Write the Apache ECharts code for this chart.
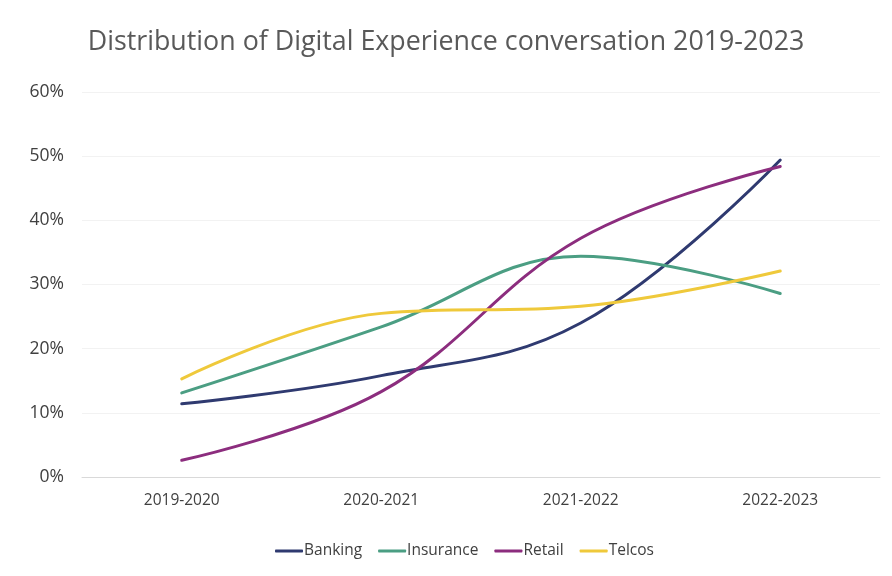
<!DOCTYPE html>
<html><head><meta charset="utf-8">
<script src="https://cdn.jsdelivr.net/npm/echarts@6/dist/echarts.min.js"></script>
<style>html,body{margin:0;padding:0;background:#fff}#c{width:892px;height:576px}</style>
</head><body><div id="c"></div>
<script>
const categories = ['2019-2020','2020-2021','2021-2022','2022-2023'];
const banking = [11.4, 15.8, 24.0, 49.4];
const insurance = [13.1, 23.4, 34.4, 28.6];
const retail = [2.6, 13.3, 37.2, 48.4];
const telcos = [15.3, 25.5, 26.6, 32.1];
const yTicks = [0,10,20,30,40,50,60];

const chart = echarts.init(document.getElementById('c'));
const font = '"Open Sans", sans-serif';
function s(name, data, color){
  return {name, type:'line', data, smooth:0.4, showSymbol:false, symbol:'none',
    lineStyle:{width:3, color, cap:'round'}, itemStyle:{color}};
}
chart.setOption({
  animation:false,
  title:{text:'Distribution of Digital Experience conversation 2019-2023', left:'center', top:24,
    textStyle:{fontFamily:font, fontSize:26.8, fontWeight:'normal', color:'#595959'}},
  legend:{bottom:12, left:270, itemWidth:28, itemHeight:3, itemGap:16, icon:'roundRect',
    textStyle:{fontFamily:font, fontSize:15.5, color:'#404040', padding:[0,0,0,-4]}},
  grid:{left:82, right:12, top:92, bottom:99},
  xAxis:{type:'category', data:categories, boundaryGap:true,
    axisLine:{lineStyle:{color:'#d9d9d9', width:1}}, axisTick:{show:false},
    axisLabel:{fontFamily:font, fontSize:15.5, color:'#404040', margin:16}},
  yAxis:{type:'value', min:0, max:60, interval:10,
    axisLabel:{fontFamily:font, fontSize:17.5, color:'#404040', formatter:v=>v+'%', margin:18},
    splitLine:{lineStyle:{color:'#f2f2f2'}}, axisLine:{show:false}, axisTick:{show:false}},
  series:[s('Banking',banking,'#2f3a70'), s('Insurance',insurance,'#4b9e83'),
    s('Retail',retail,'#8c2d7e'), s('Telcos',telcos,'#efc93b')]
});
</script></body></html>
